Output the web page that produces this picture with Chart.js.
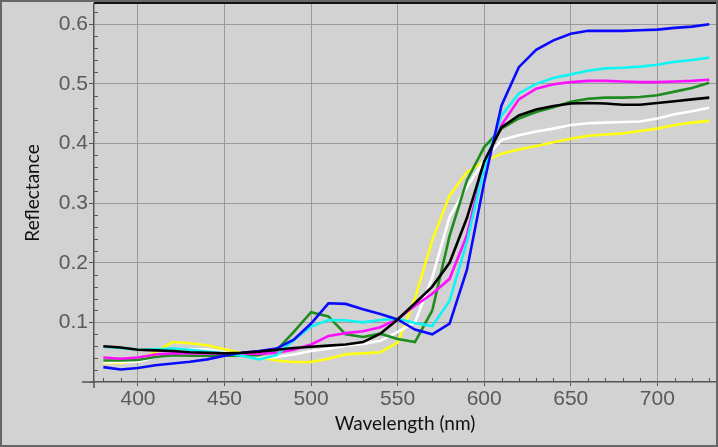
<!DOCTYPE html>
<html><head><meta charset="utf-8">
<script src="https://cdn.jsdelivr.net/npm/chart.js@4.4.1/dist/chart.umd.min.js"></script>
<style>html,body{margin:0;padding:0;background:#d2d2d2;}#wrap{width:718px;height:447px;position:relative;}</style>
</head><body><div id="wrap"><canvas id="c" width="718" height="447"></canvas></div>
<script>
const wavelengths = [380,390,400,410,420,430,440,450,460,470,480,490,500,510,520,530,540,550,560,570,580,590,600,610,620,630,640,650,660,670,680,690,700,710,720,730];
const blackSeries   = [0.060,0.058,0.054,0.053,0.052,0.050,0.049,0.048,0.049,0.051,0.054,0.057,0.059,0.061,0.063,0.067,0.081,0.105,0.132,0.160,0.200,0.275,0.370,0.427,0.447,0.457,0.463,0.467,0.468,0.467,0.465,0.465,0.468,0.471,0.474,0.477];
const blueSeries    = [0.025,0.021,0.0235,0.028,0.031,0.034,0.038,0.044,0.049,0.052,0.056,0.071,0.098,0.132,0.131,0.122,0.114,0.105,0.088,0.080,0.098,0.188,0.335,0.464,0.528,0.557,0.573,0.584,0.589,0.589,0.589,0.590,0.591,0.594,0.596,0.600];
const cyanSeries    = [0.059,0.057,0.054,0.055,0.056,0.054,0.051,0.048,0.044,0.038,0.045,0.070,0.093,0.104,0.1035,0.100,0.104,0.106,0.099,0.094,0.136,0.235,0.360,0.447,0.484,0.500,0.510,0.516,0.522,0.526,0.527,0.529,0.532,0.537,0.540,0.544];
const magentaSeries = [0.041,0.039,0.041,0.046,0.048,0.048,0.048,0.048,0.048,0.047,0.049,0.054,0.063,0.077,0.082,0.085,0.092,0.106,0.128,0.148,0.173,0.246,0.366,0.431,0.474,0.492,0.4995,0.503,0.505,0.505,0.504,0.503,0.503,0.504,0.505,0.507];
const greenSeries   = [0.036,0.036,0.037,0.042,0.045,0.044,0.044,0.044,0.044,0.045,0.053,0.084,0.117,0.110,0.080,0.0755,0.081,0.072,0.067,0.120,0.245,0.338,0.394,0.425,0.442,0.453,0.461,0.470,0.475,0.477,0.477,0.478,0.481,0.487,0.493,0.502];
const whiteSeries   = [0.033,0.033,0.034,0.042,0.050,0.055,0.055,0.050,0.046,0.040,0.042,0.046,0.052,0.056,0.061,0.064,0.069,0.084,0.100,0.175,0.277,0.327,0.372,0.406,0.414,0.420,0.425,0.431,0.434,0.435,0.436,0.437,0.442,0.449,0.454,0.460];
const yellowSeries  = [0.032,0.032,0.036,0.050,0.067,0.065,0.0615,0.055,0.048,0.042,0.036,0.0335,0.0335,0.039,0.0465,0.048,0.050,0.066,0.140,0.238,0.313,0.352,0.370,0.383,0.390,0.396,0.402,0.408,0.413,0.415,0.417,0.421,0.425,0.431,0.435,0.438];
const xTickValues = [400,450,500,550,600,650,700];
const yTickValues = [0,0.1,0.2,0.3,0.4,0.5,0.6];
const xTitle = 'Wavelength (nm)';
const yTitle = 'Reflectance';

const pts = arr => arr.map((v, i) => ({x: wavelengths[i], y: v}));
const seriesDefs = [
  ['black', blackSeries, '#000000'],
  ['blue', blueSeries, '#0a0aff'],
  ['cyan', cyanSeries, '#10f4f4'],
  ['magenta', magentaSeries, '#ff10ff'],
  ['green', greenSeries, '#1f8c1f'],
  ['white', whiteSeries, '#ffffff'],
  ['yellow', yellowSeries, '#ffff10']
];

const framePlugin = {
  id: 'frame',
  beforeDraw(chart) {
    const c = chart.ctx;
    c.save();
    c.fillStyle = '#d2d2d2';
    c.fillRect(0, 0, chart.width, chart.height);
    c.restore();
  },
  afterDraw(chart) {
    const c = chart.ctx, a = chart.chartArea;
    const xs = chart.scales.x, ys = chart.scales.y;
    c.save();
    c.strokeStyle = '#555';
    c.lineWidth = 1;
    c.beginPath();
    for (let w = 380; w <= 730; w += 10) {
      if (w % 50 === 0) continue;
      const px = Math.round(xs.getPixelForValue(w)) + 0.5;
      c.moveTo(px, a.bottom); c.lineTo(px, a.bottom - 4);
    }
    for (let k = 1; k <= 31; k++) {
      const v = k * 0.02;
      if (k % 5 === 0) continue;
      const py = Math.round(ys.getPixelForValue(v)) + 0.5;
      c.moveTo(a.left, py); c.lineTo(a.left + 4, py);
    }
    c.stroke();
    c.lineWidth = 1.5;
    c.beginPath();
    c.moveTo(a.left - 12, a.bottom); c.lineTo(a.left, a.bottom);
    c.moveTo(a.left, a.bottom); c.lineTo(a.left, a.bottom + 6);
    c.stroke();
    c.strokeStyle = '#111';
    c.lineWidth = 2;
    c.beginPath();
    c.moveTo(a.left, a.top - 1); c.lineTo(chart.width, a.top - 1);
    c.stroke();
    c.strokeStyle = '#666';
    c.lineWidth = 2;
    c.strokeRect(1, 1, chart.width - 2, chart.height - 2);
    c.restore();
  }
};

new Chart(document.getElementById('c'), {
  type: 'line',
  data: {
    datasets: seriesDefs.map(([name, arr, col]) => ({
      label: name, data: pts(arr), borderColor: col, backgroundColor: col,
      borderWidth: 2.6, pointRadius: 0, tension: 0, fill: false
    }))
  },
  options: {
    responsive: false, animation: false, devicePixelRatio: 1,
    layout: {padding: {left: 0, right: 2, top: 4, bottom: 0}},
    plugins: {legend: {display: false}, tooltip: {enabled: false}},
    scales: {
      x: {
        type: 'linear', min: 374.6, max: 733.9,
        afterFit: s => { s.height = 65; s.paddingLeft = 0; s.paddingRight = 0; },
        afterBuildTicks: s => { s.ticks = xTickValues.map(v => ({value: v})); },
        ticks: {color: '#5a5a5a', font: {family: 'Liberation Sans', size: 21}, padding: 1, maxRotation: 0, autoSkip: false},
        grid: {color: '#9a9a9a', lineWidth: 1, drawTicks: true, tickLength: 4, tickColor: '#555'},
        border: {display: true, color: '#555', width: 1.5},
        title: {display: true, text: xTitle, color: '#111', font: {family: 'Lato', size: 19}, padding: {top: 0, bottom: 12}}
      },
      y: {
        type: 'linear', min: 0, max: 0.634,
        afterFit: s => { s.width = 94; s.paddingTop = 0; s.paddingBottom = 0; },
        afterBuildTicks: s => { s.ticks = yTickValues.map(v => ({value: v})); },
        ticks: {color: '#5a5a5a', font: {family: 'Liberation Sans', size: 21}, padding: 1,
          callback: v => v === 0 ? '' : v.toFixed(1)},
        grid: {color: c => (c.tick && c.tick.value === 0) ? 'rgba(0,0,0,0)' : '#9a9a9a', lineWidth: 1, drawTicks: true, tickLength: 5, tickColor: '#555'},
        border: {display: true, color: '#555', width: 1.5},
        title: {display: true, text: yTitle, color: '#111', font: {family: 'Lato', size: 19}, padding: {top: 21, bottom: 0}}
      }
    }
  },
  plugins: [framePlugin]
});
</script></body></html>
